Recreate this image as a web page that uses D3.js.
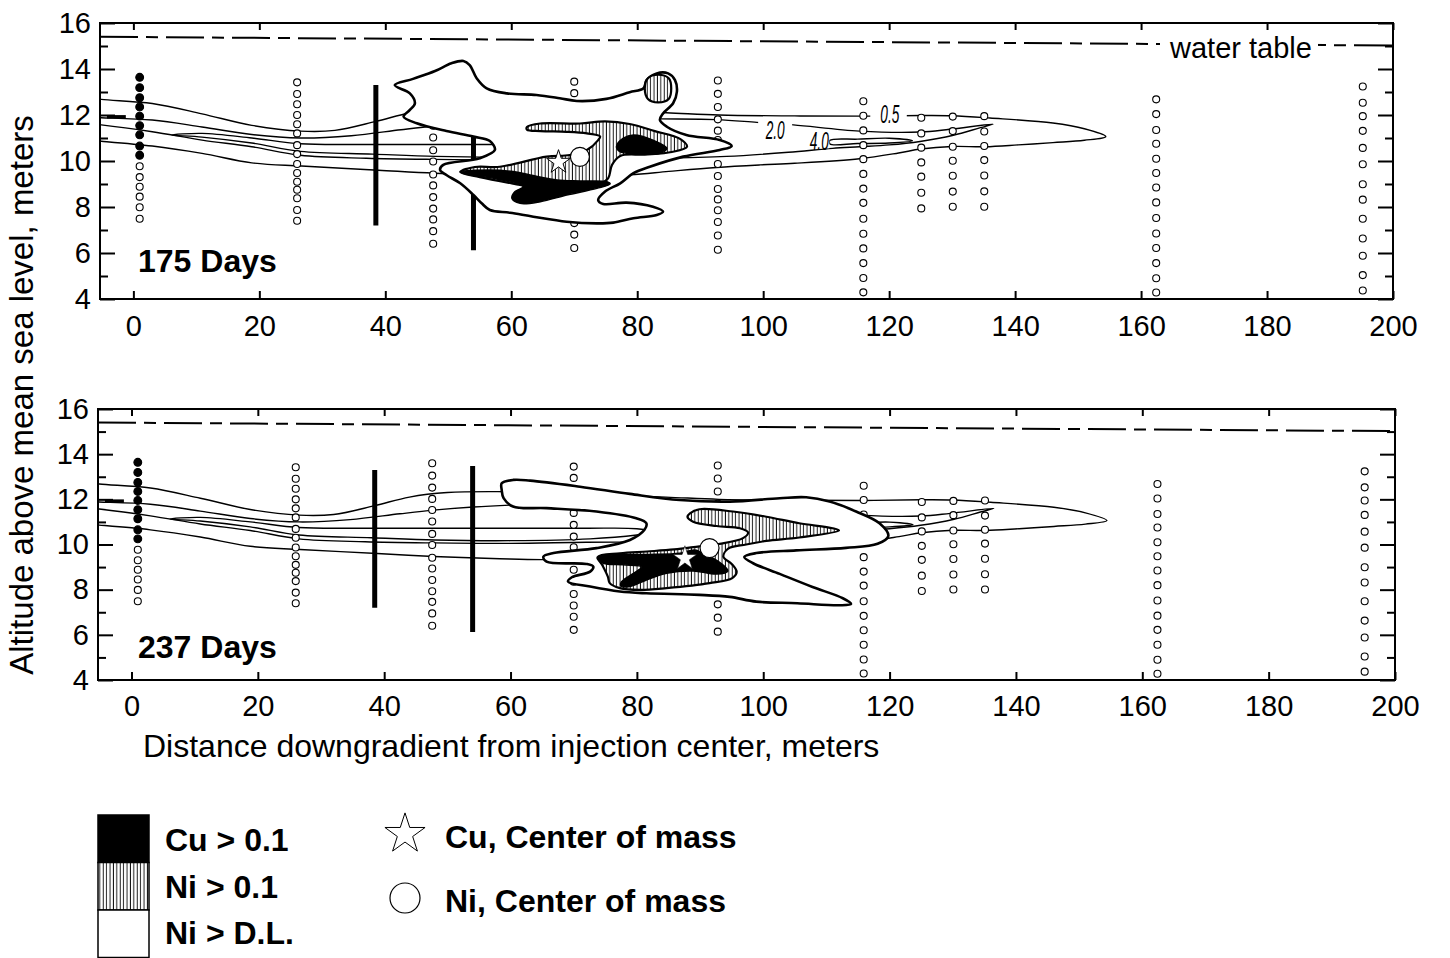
<!DOCTYPE html>
<html lang="en">
<head>
<meta charset="utf-8">
<title>Cu and Ni plumes, 175 and 237 days</title>
<script src="https://cdn.jsdelivr.net/npm/d3@7"></script>
<style>
  body { margin: 0; background: #fff; }
  svg { display: block; font-family: "Liberation Sans", Arial, sans-serif; }
</style>
</head>
<body>
<script>
// axis ticks
var xTicks = [0, 20, 40, 60, 80, 100, 120, 140, 160, 180, 200];
var yTicks = [4, 6, 8, 10, 12, 14, 16];
var yMinor = [5, 7, 9, 11, 13, 15];
var panelLabels = ["175 Days", "237 Days"];

// sampling wells: distance (m) and port altitudes (m); first n ports are filled (injection well)
var wellX = [1, 26, 47.6, 70, 92.8, 115.9, 125.1, 130.1, 135.1, 162.4, 195.2];
var wellFilled = [9, 0, 0, 0, 0, 0, 0, 0, 0, 0, 0];
var wellPorts = [
  [13.64, 13.19, 12.75, 12.35, 11.95, 11.54, 11.14, 10.65, 10.25, 9.77, 9.30, 8.88, 8.45, 7.99, 7.49],
  [13.42, 12.91, 12.47, 12.0, 11.6, 11.2, 10.69, 10.3, 9.87, 9.48, 9.10, 8.75, 8.38, 7.87, 7.40],
  [13.60, 13.05, 12.52, 12.02, 11.53, 11.02, 10.47, 9.98, 9.41, 8.94, 8.43, 7.93, 7.46, 6.95, 6.40],
  [13.45, 12.95, 12.45, 11.95, 11.4, 10.87, 10.35, 9.88, 9.38, 8.88, 8.35, 7.81, 7.3, 6.8, 6.22],
  [13.5, 12.92, 12.35, 11.81, 11.32, 10.91, 9.87, 9.35, 8.78, 8.33, 7.86, 7.35, 6.76, 6.14],
  [12.6, 11.97, 11.33, 10.69, 10.08, 9.44, 8.8, 8.18, 7.49, 6.84, 6.2, 5.56, 4.91, 4.29],
  [11.88, 11.2, 10.58, 9.94, 9.32, 8.62, 7.94],
  [11.93, 11.30, 10.62, 10.01, 9.36, 8.67, 8.01],
  [11.95, 11.28, 10.65, 10.04, 9.37, 8.68, 8.01],
  [12.68, 12.04, 11.35, 10.75, 10.1, 9.48, 8.85, 8.2, 7.52, 6.85, 6.22, 5.56, 4.9, 4.28],
  [13.24, 12.53, 11.95, 11.31, 10.57, 9.86, 8.99, 8.32, 7.49, 6.63, 5.88, 5.04, 4.37]
];

// vertical barriers
var barX = [38.5, 54];
var barTop = [13.3, 13.48];
var barBottom = [7.2, 6.12];

var waterTable = [[-5.3, 15.4], [200, 15.02]];
var injectionMark = [[-4.2, 11.92], [-1.2, 11.92]];

// tracer contours (same in both panels)
var contour05 = [[-7, 12.76], [-5.1, 12.68], [3, 12.5], [10.9, 12.05], [18.8, 11.55], [26.5, 11.3], [32, 11.33],
  [38.5, 11.72], [44, 12.1], [50, 12.3], [58, 12.34], [70, 12.25], [84.6, 12.1], [93, 12.0], [105, 11.96],
  [116, 11.95], [125, 11.98], [130, 11.97], [136, 11.87], [146, 11.65], [151, 11.4], [154.4, 11.06],
  [151, 10.9], [146, 10.8], [140.5, 10.7], [135.2, 10.62], [130, 10.63], [125, 10.52], [121.5, 10.35],
  [115.3, 10.1], [105, 9.9], [99.5, 9.83], [92.6, 9.72], [85, 9.55], [78.8, 9.4], [65, 9.33], [58.3, 9.37],
  [47.8, 9.47], [38.9, 9.6], [26.7, 9.78], [18.8, 9.92], [10.9, 10.33], [3, 10.65], [-5.1, 10.86], [-7, 10.9]];
var contour20 = [[-7, 11.9], [-5.1, 11.88], [3, 11.78], [10.9, 11.48], [18.8, 11.15], [26.5, 11.0], [34.6, 11.1],
  [42.5, 11.36], [47.8, 11.52], [54.1, 11.66], [60.4, 11.75], [72, 11.85], [83.6, 11.83], [92.6, 11.8], [99, 11.68],
  [104.8, 11.57], [115.3, 11.3], [124.9, 11.26], [129.6, 11.38], [136.5, 11.6],
  [134.5, 11.45], [130.2, 11.12], [124.9, 10.85], [120, 10.7], [115.3, 10.62], [111, 10.55], [104, 10.38],
  [94.2, 10.2], [83.6, 10.12], [72, 10.1], [60, 10.05], [47.8, 10.07], [37, 10.12], [26.5, 10.25],
  [18.8, 10.62], [10.9, 10.91], [3, 11.27], [-5.1, 11.57], [-7, 11.62]];
var contour40West = [[6.1, 11.13], [10.9, 11.2], [18.8, 11.0], [26.5, 10.75], [37, 10.72], [47, 10.72], [60, 10.72],
  [72, 10.72], [80, 10.7], [83, 10.55], [80, 10.42], [72.6, 10.25], [60, 10.17], [48, 10.2], [38, 10.3],
  [26.5, 10.42], [18.8, 10.78], [10.9, 11.04]];
var contour40East = [[110.6, 10.9], [115, 10.95], [120, 10.99], [123.7, 10.88], [120, 10.78], [115, 10.76], [110.6, 10.74]];
var contourLabels = ["0.5", "2.0", "4.0"];
var contourLabelAt = [[120.1, 12.04], [101.9, 11.35], [108.9, 10.85]];
var contourLabelGap = [[117, 122.8, 11.72, 12.36], [99.2, 104.6, 11.05, 11.8], [107.3, 110.5, 10.55, 11.15]];

// 175 days
var plume175 = [[41.5, 13.30], [44.4, 13.57], [47.9, 13.91], [50.5, 14.25], [52.4, 14.35], [53.4, 14.17], [54.5, 13.60],
  [56.1, 13.16], [59.3, 12.94], [64.0, 12.87], [67.7, 12.73], [70.4, 12.61], [75.1, 12.70], [78.8, 12.99], [81.0, 13.16],
  [81.5, 13.52], [83.1, 13.81], [84.9, 13.81], [86.0, 13.52], [86.3, 13.01], [85.7, 12.51], [84.1, 12.07], [83.6, 11.78],
  [84.7, 11.49], [87.8, 11.13], [93.1, 10.91], [95.0, 10.65], [93.1, 10.48], [87.3, 10.19], [82.0, 9.75], [79.4, 9.47],
  [77.3, 9.03], [74.9, 8.67], [73.8, 8.30], [74.6, 8.13], [78.3, 8.19], [82.5, 8.01], [84.1, 7.80], [83.1, 7.65],
  [79.4, 7.51], [76.2, 7.32], [73.6, 7.29], [68.8, 7.36], [63.5, 7.58], [59.8, 7.75], [56.6, 7.87], [55.3, 8.16],
  [54.0, 8.52], [51.9, 9.03], [49.7, 9.39], [48.7, 9.61], [49.2, 9.83], [55.0, 10.12], [57.4, 10.48], [56.6, 10.87],
  [54.0, 11.06], [49.7, 11.30], [45.0, 11.64], [42.9, 11.93], [43.9, 12.22], [44.7, 12.51], [43.9, 12.94]];
var ni175 = [[62.5, 11.48], [64.6, 11.63], [70.9, 11.63], [74.9, 11.72], [78.8, 11.61], [82.8, 11.30], [86.8, 10.96],
  [87.9, 10.62], [85.5, 10.39], [81.2, 10.28], [77.3, 10.22], [76.0, 9.83], [75.4, 9.26], [74.1, 9.0], [67.7, 8.65],
  [61.4, 8.96], [55.0, 9.30], [51.9, 9.52], [54.2, 9.74], [58.2, 9.75], [65.6, 10.19], [69.3, 10.26], [72, 10.48],
  [73.8, 10.91], [74.1, 11.07], [72, 11.2], [68.8, 11.27], [64.6, 11.3], [62.5, 11.36]];
var niCap175 = [[81.2, 13.15], [81.7, 13.6], [83.3, 13.75], [85, 13.6], [85.4, 13.15], [85, 12.7], [83.3, 12.55], [81.7, 12.7]];
var cu175a = [[51.9, 9.52], [56.6, 9.61], [60.3, 9.54], [63.0, 9.39], [67.3, 9.17], [70.9, 9.13], [75.2, 9.10], [75.7, 9.0],
  [73.6, 8.81], [68.8, 8.52], [64.6, 8.23], [61.4, 8.16], [60.1, 8.38], [60.6, 8.67], [61.9, 8.88], [57.7, 9.22], [53.0, 9.42]];
var cu175b = [[76.7, 10.62], [77.8, 10.99], [79.4, 11.13], [82.5, 10.91], [84.7, 10.55], [83.6, 10.33], [79.4, 10.33], [77.3, 10.40]];

// 237 days
var plume237 = [[58.6, 12.71], [60.4, 12.86], [63.1, 12.83], [71.0, 12.56], [78.9, 12.24], [86.8, 11.97], [94.7, 11.90],
  [102.6, 12.05], [106.8, 12.09], [110.5, 11.90], [114.7, 11.46], [118.4, 10.94], [119.8, 10.38], [118.1, 10.03],
  [113.1, 9.85], [105.2, 9.74], [98.9, 9.62], [97.0, 9.45], [98.4, 9.17], [102.6, 8.70], [107.8, 8.12], [112.6, 7.62],
  [113.9, 7.37], [112.1, 7.31], [105.4, 7.40], [98.9, 7.47], [94.7, 7.68], [89.9, 7.77], [81.5, 7.84], [77.3, 7.92],
  [72.6, 8.14], [69.1, 8.36], [69.7, 8.55], [72.6, 8.80], [73.1, 9.02], [72.0, 9.14], [65.7, 9.24], [65.2, 9.46],
  [66.8, 9.62], [73.6, 9.84], [78.9, 10.20], [81.2, 10.65], [81.5, 10.94], [79.9, 11.16], [73.6, 11.46], [65.7, 11.61],
  [60.4, 11.68], [58.9, 12.05], [58.6, 12.42]];
var ni237 = [[88.4, 11.38], [89.9, 11.56], [95.2, 11.46], [100.5, 11.23], [105.7, 10.94], [111.0, 10.72], [112.0, 10.62],
  [105.7, 10.31], [100.5, 10.16], [97.3, 10.0], [94.4, 9.81], [93.7, 9.45], [95.0, 9.14], [95.8, 8.79], [95.1, 8.51],
  [91.5, 8.29], [84.7, 8.07], [80.5, 7.99], [77.3, 8.07], [75.7, 8.29], [75.4, 8.58], [74.6, 9.05], [73.8, 9.45],
  [77.3, 9.61], [81.6, 9.69], [85.9, 9.78], [89.9, 9.92], [93.1, 10.03], [96.8, 10.28], [97.6, 10.53], [96.3, 10.72],
  [92.6, 10.82], [88.9, 11.01], [88.0, 11.22]];
var cu237 = [[73.7, 9.41], [76.2, 9.54], [81.6, 9.56], [86.8, 9.61], [89.1, 9.76], [91.2, 9.52], [93.3, 9.17], [94.4, 8.83],
  [92.6, 8.69], [88.9, 8.83], [84.7, 8.73], [81.5, 8.43], [78.9, 8.14], [77.5, 8.15], [77.5, 8.32], [79.2, 8.68],
  [80.8, 9.01], [77.8, 9.10], [74.7, 9.17]];

// centers of mass [175 days, 237 days]
var cuCenter = [[67.5, 9.95], [87.6, 9.39]];
var niCenter = [[70.9, 10.18], [91.5, 9.84]];

var legendLabels = ["Cu > 0.1", "Ni > 0.1", "Ni > D.L."];
var centerLabels = ["Cu, Center of mass", "Ni, Center of mass"];

var W = 1450, H = 958;
var svg = d3.select("body").append("svg").attr("width", W).attr("height", H);
var defs = svg.append("defs");

var pat = defs.append("pattern").attr("id", "hatch")
  .attr("patternUnits", "userSpaceOnUse").attr("width", 3.4).attr("height", 10);
pat.append("rect").attr("width", 3.4).attr("height", 10).attr("fill", "#fff");
pat.append("line").attr("x1", 1.2).attr("x2", 1.2).attr("y1", 0).attr("y2", 10)
  .attr("stroke", "#000").attr("stroke-width", 0.9);

var panels = [
  {top: 23, bottom: 299, left: 100, right: 1393, pad: 16, labelY: 272,
   plume: plume175, ni: [ni175, niCap175], cu: [cu175a, cu175b]},
  {top: 409, bottom: 680, left: 98, right: 1395, pad: 15, labelY: 658,
   plume: plume237, ni: [ni237], cu: [cu237]}
];

panels.forEach(function(p, k) {
  var x = d3.scaleLinear().domain([-5.3, 200]).range([p.left, p.right]);
  var y = d3.scaleLinear().domain([4, 16]).range([p.bottom, p.top]);

  defs.append("clipPath").attr("id", "clip" + k).append("rect")
    .attr("x", p.left).attr("y", p.top)
    .attr("width", p.right - p.left).attr("height", p.bottom - p.top);

  var closed = d3.line().x(function(d) { return x(d[0]); }).y(function(d) { return y(d[1]); })
    .curve(d3.curveCatmullRomClosed.alpha(0.5));
  var open = d3.line().x(function(d) { return x(d[0]); }).y(function(d) { return y(d[1]); })
    .curve(d3.curveCatmullRom.alpha(0.5));
  var straight = d3.line().x(function(d) { return x(d[0]); }).y(function(d) { return y(d[1]); });

  var g = svg.append("g").attr("clip-path", "url(#clip" + k + ")");

  g.append("path").attr("d", straight(waterTable))
    .attr("fill", "none").attr("stroke", "#000").attr("stroke-width", 2)
    .attr("stroke-dasharray", "38,8,12,8");

  [contour05, contour20].forEach(function(c) {
    g.append("path").attr("d", open(c)).attr("fill", "none")
      .attr("stroke", "#000").attr("stroke-width", 1.4);
  });
  [contour40West, contour40East].forEach(function(c) {
    g.append("path").attr("d", closed(c)).attr("fill", "none")
      .attr("stroke", "#000").attr("stroke-width", 1.4);
  });
  g.append("path").attr("d", straight(injectionMark))
    .attr("stroke", "#000").attr("stroke-width", 3.5);

  wellX.forEach(function(wx, i) {
    g.selectAll(null).data(wellPorts[i]).enter().append("circle")
      .attr("cx", x(wx)).attr("cy", function(d) { return y(d); })
      .attr("r", function(d, j) { return j < wellFilled[i] ? 3.9 : 3.5; })
      .attr("fill", function(d, j) { return j < wellFilled[i] ? "#000" : "#fff"; })
      .attr("stroke", "#000").attr("stroke-width", 1.1);
  });

  barX.forEach(function(bx, i) {
    g.append("line").attr("x1", x(bx)).attr("x2", x(bx))
      .attr("y1", y(barTop[i])).attr("y2", y(barBottom[i]))
      .attr("stroke", "#000").attr("stroke-width", 5);
  });

  g.append("path").attr("d", closed(p.plume))
    .attr("fill", "#fff").attr("stroke", "#000").attr("stroke-width", 2.6);
  p.ni.forEach(function(s) {
    g.append("path").attr("d", closed(s))
      .attr("fill", "url(#hatch)").attr("stroke", "#000").attr("stroke-width", 2.2);
  });
  p.cu.forEach(function(s) {
    g.append("path").attr("d", closed(s))
      .attr("fill", "#000").attr("stroke", "#000").attr("stroke-width", 1.5);
  });

  g.append("circle").attr("cx", x(niCenter[k][0])).attr("cy", y(niCenter[k][1])).attr("r", 9.5)
    .attr("fill", "#fff").attr("stroke", "#000").attr("stroke-width", 1.2);
  g.append("path").attr("d", d3.symbol(d3.symbolStar, 175)())
    .attr("transform", "translate(" + x(cuCenter[k][0]) + "," + y(cuCenter[k][1]) + ")")
    .attr("fill", "#fff").attr("stroke", "#000").attr("stroke-width", k === 0 ? 1 : 0.6);

  if (k === 0) {
    contourLabels.forEach(function(t, i) {
      var gap = contourLabelGap[i];
      g.append("rect").attr("x", x(gap[0])).attr("y", y(gap[3]))
        .attr("width", x(gap[1]) - x(gap[0])).attr("height", y(gap[2]) - y(gap[3]))
        .attr("fill", "#fff");
      g.append("text").attr("x", x(contourLabelAt[i][0])).attr("y", y(contourLabelAt[i][1]) + 9)
        .attr("text-anchor", "middle").attr("font-size", 25).attr("font-style", "italic")
        .attr("textLength", 19).attr("lengthAdjust", "spacingAndGlyphs")
        .text(t);
    });
    g.append("rect").attr("x", 1160).attr("y", 30).attr("width", 158).attr("height", 30).attr("fill", "#fff");
    g.append("text").attr("x", 1170).attr("y", 58).attr("font-size", 29).text("water table");
  }

  // frame and axes
  svg.append("rect").attr("x", p.left).attr("y", p.top)
    .attr("width", p.right - p.left).attr("height", p.bottom - p.top)
    .attr("fill", "none").attr("stroke", "#000").attr("stroke-width", 2);

  var axes = [
    svg.append("g").attr("transform", "translate(0," + p.bottom + ")")
      .call(d3.axisBottom(x).tickValues(xTicks).tickSize(-8).tickPadding(p.pad).tickFormat(d3.format("d"))),
    svg.append("g").attr("transform", "translate(0," + p.top + ")")
      .call(d3.axisTop(x).tickValues(xTicks).tickSize(-7).tickFormat("")),
    svg.append("g").attr("transform", "translate(" + p.left + ",0)")
      .call(d3.axisLeft(y).tickValues(yTicks).tickSize(-15).tickPadding(9).tickFormat(d3.format("d"))),
    svg.append("g").attr("transform", "translate(" + p.left + ",0)")
      .call(d3.axisLeft(y).tickValues(yMinor).tickSize(-8).tickFormat("")),
    svg.append("g").attr("transform", "translate(" + p.right + ",0)")
      .call(d3.axisRight(y).tickValues(yTicks).tickSize(-15).tickFormat("")),
    svg.append("g").attr("transform", "translate(" + p.right + ",0)")
      .call(d3.axisRight(y).tickValues(yMinor).tickSize(-8).tickFormat(""))
  ];
  axes.forEach(function(a) {
    a.select(".domain").remove();
    a.selectAll(".tick line").attr("stroke-width", 2);
    a.selectAll("text").attr("font-size", 29).attr("font-family", "Liberation Sans, Arial, sans-serif").attr("fill", "#000");
  });

  svg.append("text").attr("x", 138).attr("y", p.labelY)
    .attr("font-size", 32).attr("font-weight", "bold").text(panelLabels[k]);
});

// axis titles
svg.append("text").attr("transform", "translate(33,395) rotate(-90)")
  .attr("text-anchor", "middle").attr("font-size", 33)
  .text("Altitude above mean sea level, meters");
svg.append("text").attr("x", 143).attr("y", 757).attr("font-size", 32)
  .text("Distance downgradient from injection center, meters");

// legend
var legFill = ["#000", "url(#hatch)", "#fff"];
var lg = svg.append("g");
legendLabels.forEach(function(t, i) {
  lg.append("rect").attr("x", 98).attr("y", 815 + i * 47.5).attr("width", 51).attr("height", 47.5)
    .attr("fill", legFill[i]).attr("stroke", "#000").attr("stroke-width", 1.5);
  lg.append("text").attr("x", 165).attr("y", 851 + i * 46.5)
    .attr("font-size", 32).attr("font-weight", "bold").text(t);
});
lg.append("path").attr("d", d3.symbol(d3.symbolStar, 500)())
  .attr("transform", "translate(405,834)")
  .attr("fill", "#fff").attr("stroke", "#000").attr("stroke-width", 1);
lg.append("circle").attr("cx", 405).attr("cy", 898).attr("r", 15)
  .attr("fill", "#fff").attr("stroke", "#000").attr("stroke-width", 1.2);
centerLabels.forEach(function(t, i) {
  lg.append("text").attr("x", 445).attr("y", 848 + i * 64)
    .attr("font-size", 32).attr("font-weight", "bold").text(t);
});
</script>
</body>
</html>
